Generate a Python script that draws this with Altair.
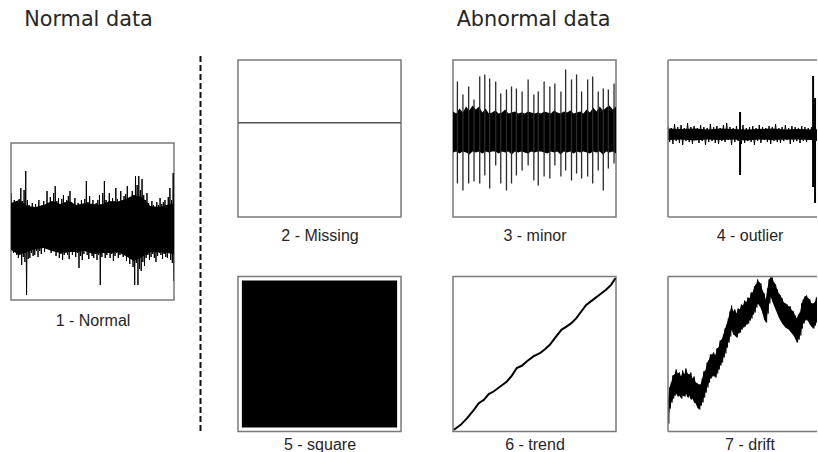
import altair as alt
import pandas as pd

# ---------------- text ----------------
TITLES = ["Normal data", "Abnormal data"]
LABELS = ["1 - Normal", "2 - Missing", "3 - minor", "4 - outlier",
          "5 - square", "6 - trend", "7 - drift"]

# ---------------- 1 - Normal: noise excursions (upper / lower), 100 samples ----------------
P1_HI = [3.6, 2.2, 2.9, 2.1, 2.6, 3.0, 4.1, 2.8, 3.9, 5.8,
         2.9, 2.4, 2.0, 2.6, 2.1, 2.5, 2.2, 2.9, 2.1, 2.4,
         2.8, 2.3, 3.8, 2.6, 3.2, 2.5, 3.6, 4.3, 2.8, 3.1,
         2.4, 3.0, 3.4, 2.6, 2.9, 3.3, 3.8, 2.7, 2.4, 3.1,
         2.3, 2.6, 2.0, 2.9, 2.4, 3.0, 4.8, 2.7, 3.3, 2.2,
         2.9, 2.1, 2.6, 2.9, 3.4, 2.5, 3.6, 4.8, 2.9, 2.7,
         3.6, 2.6, 3.1, 2.8, 4.1, 3.0, 2.8, 3.8, 2.9, 3.3,
         3.5, 4.3, 2.9, 3.2, 3.8, 3.4, 5.3, 4.4, 5.3, 3.9,
         5.0, 3.4, 2.9, 3.6, 2.6, 2.3, 2.8, 2.4, 2.1, 2.7,
         2.4, 3.1, 2.5, 2.7, 2.9, 2.4, 3.2, 4.1, 2.9, 5.6]
P1_LO = [-2.0, -2.4, -2.1, -2.6, -2.9, -2.3, -3.6, -2.8, -3.3, -6.6,
         -3.0, -2.9, -2.4, -2.7, -2.6, -2.2, -2.8, -2.2, -2.5, -1.9,
         -2.3, -1.6, -2.0, -1.8, -2.4, -2.0, -2.2, -2.7, -2.3, -2.9,
         -2.5, -3.1, -2.6, -2.4, -2.6, -3.0, -2.3, -2.6, -2.2, -2.8,
         -2.4, -3.9, -2.7, -3.1, -2.5, -2.2, -2.6, -3.0, -2.4, -2.7,
         -2.9, -2.5, -3.1, -2.6, -5.6, -2.8, -2.4, -2.9, -2.6, -2.3,
         -2.9, -2.5, -3.2, -2.7, -2.4, -2.9, -2.6, -2.3, -2.8, -2.5,
         -3.2, -2.7, -3.5, -3.0, -3.8, -5.6, -3.4, -5.6, -4.0, -4.2,
         -3.3, -3.7, -2.9, -2.6, -3.1, -2.8, -2.5, -2.9, -3.3, -2.7,
         -2.4, -2.6, -3.0, -2.5, -2.8, -2.9, -2.4, -3.1, -3.4, -5.2]
# solid core of the trace
P1_CORE_T = [0, 5, 10, 15, 20, 25, 30, 35, 40, 45, 50,
             55, 60, 65, 70, 75, 80, 85, 90, 95, 100]
P1_CORE_HI = [2.6, 2.9, 2.3, 2.2, 2.4, 2.8, 2.5, 2.8, 2.4, 2.6, 2.5,
              2.4, 2.8, 2.7, 3.0, 3.4, 3.2, 2.3, 2.2, 2.4, 2.6]
P1_CORE_LO = [-2.1, -2.6, -2.3, -2.0, -1.9, -2.2, -2.4, -2.3, -2.3, -2.2, -2.5,
              -2.4, -2.4, -2.3, -2.7, -3.2, -2.8, -2.3, -2.3, -2.4, -2.5]

# ---------------- 2 - Missing: flat line ----------------
P2_T = [0, 100]
P2_V = [0.6, 0.6]

# ---------------- 3 - minor: band + periodic spikes ----------------
P3_HI = [2.1, 1.9, 2.4, 2.0, 2.6, 2.2, 2.7, 2.3, 2.6, 2.0,
         2.4, 1.9, 2.0, 2.2, 1.9, 2.0, 2.3, 1.9, 2.0, 2.1,
         1.9, 2.0, 1.9, 2.1, 2.0, 1.9, 2.0, 1.9, 2.1, 2.0,
         1.9, 2.2, 2.0, 1.9, 2.1, 2.0, 2.2, 1.9, 2.0, 2.1,
         1.9, 2.3, 2.0, 2.5, 2.1, 2.6, 2.2, 2.5, 2.7, 2.3, 2.6]
P3_LO = [-2.0, -1.9, -2.1, -1.9, -2.0, -2.2, -1.9, -2.0, -1.9, -2.1,
         -1.9, -2.0, -1.9, -1.9, -2.1, -1.9, -2.0, -1.9, -2.2, -1.9,
         -2.0, -1.9, -2.0, -2.1, -1.9, -2.0, -1.9, -1.9, -2.0, -2.1,
         -1.9, -2.0, -1.9, -2.2, -1.9, -2.0, -1.9, -2.1, -1.9, -2.0,
         -1.9, -2.0, -2.1, -1.9, -2.0, -1.9, -2.2, -1.9, -2.0, -1.9, -2.1]
P3_SPIKE_T = [2.7, 6.1, 9.6, 12.9, 16.4, 19.5, 22.5, 26.2, 29.3, 32.8,
              35.9, 38.9, 42.4, 46.1, 49.6, 52.3, 55.9, 59.4, 62.5, 66.2,
              69.1, 72.7, 75.8, 78.9, 82.6, 85.7, 89.1, 92.2, 95.3, 98.8]
P3_SPIKE_TOP = [5.1, 3.8, 4.6, 3.3, 5.6, 5.8, 5.4, 5.1, 3.9, 4.3,
                4.6, 4.4, 4.1, 5.3, 3.8, 4.1, 5.1, 4.6, 4.9, 4.1,
                6.3, 5.3, 5.8, 4.1, 5.3, 5.6, 4.1, 4.4, 4.3, 4.9]
P3_SPIKE_BOT = [-5.1, -5.8, -5.1, -4.9, -5.1, -4.3, -5.6, -3.3, -5.1, -5.8,
                -5.1, -4.3, -3.8, -3.3, -4.8, -5.3, -4.4, -4.6, -3.3, -4.4,
                -3.8, -4.8, -4.1, -4.6, -4.4, -5.1, -3.8, -5.8, -3.6, -3.1]

# ---------------- 4 - outlier: thin band + outliers ----------------
P4_HI = [0.8, 0.6, 1.0, 0.7, 0.9, 0.6, 1.1, 0.7, 0.8, 0.6,
         0.9, 0.7, 0.6, 1.0, 0.7, 0.8, 0.6, 0.9, 1.1, 0.7,
         0.6, 0.8, 0.7, 0.9, 0.6, 0.7, 0.8, 0.6, 0.9, 0.7,
         0.6, 0.8, 0.7, 1.0, 0.6, 0.7, 0.9, 0.6, 0.8, 0.7,
         0.6, 0.8, 0.7, 0.6, 0.7, 0.8, 0.7, 0.6]
P4_LO = [-0.8, -1.0, -0.7, -0.9, -1.1, -0.7, -0.8, -1.0, -0.6, -0.9,
         -0.7, -1.1, -0.8, -0.7, -0.9, -1.0, -0.7, -0.8, -0.6, -1.1,
         -0.8, -0.7, -1.0, -0.9, -0.7, -0.8, -1.1, -0.7, -0.9, -0.6,
         -0.8, -1.0, -0.7, -0.8, -0.9, -0.7, -0.6, -1.0, -0.8, -0.7,
         -0.9, -0.7, -0.8, -0.6, -0.9, -0.7, -0.8, -0.7]
P4_CORE_T = [0, 8, 16, 24, 32, 40, 48, 56, 64, 72, 80, 88, 96]
P4_CORE_HI = [0.55, 0.5, 0.55, 0.45, 0.55, 0.5, 0.45, 0.5, 0.55, 0.45, 0.5, 0.45, 0.5]
P4_CORE_LO = [-0.6, -0.55, -0.65, -0.55, -0.6, -0.55, -0.65, -0.55, -0.6, -0.55, -0.55, -0.6, -0.55]
P4_SPIKE_T = [44.2, 89.0, 90.2]
P4_SPIKE_TOP = [2.2, 5.8, 3.6]
P4_SPIKE_BOT = [-4.1, -5.3, -6.9]

# ---------------- 5 - square: saturated square wave ----------------
P5_T = [0, 100]
P5_HI = [1, 1]
P5_LO = [-1, -1]

# ---------------- 6 - trend ----------------
P6_T = [0.6, 4.7, 8.7, 12.8, 15.8, 18.9, 21.9, 24.9, 29.0, 33.1,
        36.1, 39.1, 42.2, 45.2, 49.3, 53.3, 56.4, 59.4, 62.5, 66.5,
        69.6, 72.6, 75.7, 78.7, 81.7, 85.8, 89.9, 93.9, 97.0, 99.6]
P6_V = [1.1, 4.3, 8.6, 14.0, 18.3, 20.4, 24.1, 25.8, 29.0, 32.3,
        36.1, 40.9, 42.4, 45.2, 48.4, 50.5, 53.1, 55.9, 60.2, 65.6,
        67.7, 69.9, 73.1, 77.4, 81.7, 84.9, 88.2, 91.4, 94.6, 98.9]

# ---------------- 7 - drift: wandering noisy band ----------------
P7_HI = [3.2, 4.4, 4.9, 5.6, 5.7, 6.2, 5.8, 5.9, 5.5, 6.1,
         5.7, 6.3, 5.8, 5.7, 5.9, 5.3, 5.5, 4.9, 4.8, 4.7,
         4.7, 5.3, 6.0, 6.1, 6.9, 7.1, 7.7, 7.7, 7.9, 7.6,
         8.3, 8.4, 9.1, 9.2, 9.7, 10.3, 10.7, 11.3, 12.0, 12.6,
         12.0, 12.2, 11.8, 12.3, 12.2, 12.7, 12.6, 13.1, 12.9, 13.4,
         13.3, 13.9, 13.9, 14.5, 14.7, 15.2, 14.9, 14.8, 14.1, 13.8,
         13.2, 14.3, 15.2, 15.4, 15.4, 14.9, 14.7, 14.2, 13.8, 13.6,
         13.3, 12.9, 12.8, 12.7, 12.5, 12.5, 12.1, 12.0, 11.6, 11.3,
         11.7, 11.9, 12.8, 13.2, 13.5, 13.6, 13.3, 13.2, 12.8, 12.8,
         12.9, 13.4, 13.4, 13.6]
P7_LO = [0.8, 2.3, 2.9, 3.3, 3.6, 3.8, 3.5, 3.6, 3.3, 3.6,
         3.5, 3.8, 3.4, 3.6, 3.2, 3.3, 2.9, 2.8, 2.4, 2.2,
         2.6, 2.9, 3.4, 3.9, 4.4, 4.9, 5.3, 5.5, 5.6, 5.4,
         5.8, 6.2, 6.6, 6.9, 7.4, 7.8, 8.4, 8.9, 9.5, 10.2,
         9.7, 9.6, 9.4, 9.8, 9.9, 10.2, 10.4, 10.5, 10.7, 10.8,
         11.1, 11.3, 11.7, 11.9, 12.4, 12.8, 12.6, 12.3, 11.8, 11.2,
         10.9, 11.8, 12.8, 13.5, 13.0, 12.6, 12.2, 11.8, 11.4, 11.1,
         10.8, 10.6, 10.4, 10.3, 10.2, 10.0, 9.8, 9.6, 9.3, 8.9,
         9.2, 9.6, 10.3, 10.8, 11.1, 11.2, 11.0, 10.7, 10.5, 10.3,
         10.6, 10.9, 11.1, 11.1]

# ---------------- styling ----------------
FRAME = "#7a7a7a"
TEXT = "#262626"
LABEL_FONT = "Liberation Sans"
TITLE_FONT = "DejaVu Sans"
NOFRAME = alt.ViewBackground(strokeOpacity=0, strokeWidth=0)
ONE = pd.DataFrame({"k": [0]})


def zigzag(t, hi, lo, step):
    """Noise trace: each sample swings from its upper to its lower excursion."""
    rows = []
    for ti, h, l in zip(t, hi, lo):
        rows.append({"t": ti, "v": h})
        rows.append({"t": ti + step / 2, "v": l})
    return pd.DataFrame(rows)


def xaxis(label, ty, tx=None):
    kw = dict(title=label, labels=False, ticks=False, domain=False, grid=False,
              titleFont=LABEL_FONT, titleFontSize=16, titleFontWeight="normal",
              titleColor=TEXT, titleY=ty, titleBaseline="alphabetic")
    if tx is not None:
        kw["titleX"] = tx
    return alt.Axis(**kw)


def X(field, dom, label, ty, tx=None):
    return alt.X(f"{field}:Q", scale=alt.Scale(domain=dom, nice=False, zero=False),
                 axis=xaxis(label, ty, tx))


def Y(field, dom):
    return alt.Y(f"{field}:Q", scale=alt.Scale(domain=dom, nice=False, zero=False), axis=None)


def spacer(w, h):
    return alt.Chart(ONE).mark_point(size=1, filled=True, opacity=0).encode(
        x=alt.value(w / 2), y=alt.value(h / 2)).properties(width=w, height=h, view=NOFRAME)


def open_frame(w, h):
    left = alt.Chart(ONE).mark_rule(color=FRAME, strokeWidth=1.5).encode(
        x=alt.value(0), y=alt.value(0), y2=alt.value(h))
    top = alt.Chart(ONE).mark_rule(color=FRAME, strokeWidth=1.5).encode(
        x=alt.value(0), x2=alt.value(w), y=alt.value(0))
    bottom = alt.Chart(ONE).mark_rule(color=FRAME, strokeWidth=1.5).encode(
        x=alt.value(0), x2=alt.value(w), y=alt.value(h))
    return [left, top, bottom]


W, WCUT, H1, H2 = 163, 149, 157, 155
TOP_T, BOT_T = 23, 17.5
CUT_DOM = [0, 91.4]

# 1 - Normal
d1x, d1y = [0, 99.5], [-7.1, 8.6]
df1c = pd.DataFrame({"t": P1_CORE_T, "hi": P1_CORE_HI, "lo": P1_CORE_LO})
df1 = zigzag(list(range(len(P1_HI))), P1_HI, P1_LO, 1)
p1 = alt.layer(
    alt.Chart(df1c).mark_area(color="black", clip=True).encode(
        x=X("t", d1x, LABELS[0], 25), y=Y("hi", d1y), y2="lo:Q"),
    alt.Chart(df1).mark_line(color="black", strokeWidth=1, clip=True).encode(
        x=X("t", d1x, LABELS[0], 25), y=Y("v", d1y)),
).properties(width=W, height=H1)

# 2 - Missing
df2 = pd.DataFrame({"t": P2_T, "v": P2_V})
p2 = alt.Chart(df2).mark_line(color="#555555", strokeWidth=1.5).encode(
    x=X("t", [0, 100], LABELS[1], TOP_T), y=Y("v", [0, 1])
).properties(width=W, height=H1)

# 3 - minor
df3 = pd.DataFrame({"t": list(range(0, 101, 2)), "hi": P3_HI, "lo": P3_LO})
df3s = pd.DataFrame({"t": P3_SPIKE_T, "hi": P3_SPIKE_TOP, "lo": P3_SPIKE_BOT})
d3y = [-8.45, 7.25]
p3 = alt.layer(
    alt.Chart(df3).mark_area(color="black").encode(
        x=X("t", [0, 100], LABELS[2], TOP_T), y=Y("hi", d3y), y2="lo:Q"),
    alt.Chart(df3s).mark_rule(color="#2a2a2a", strokeWidth=1.3).encode(
        x=X("t", [0, 100], LABELS[2], TOP_T), y=Y("hi", d3y), y2="lo:Q"),
).properties(width=W, height=H1)

# 4 - outlier (cut at right edge)
t4 = list(range(0, 96, 2))
df4c = pd.DataFrame({"t": P4_CORE_T, "hi": P4_CORE_HI, "lo": P4_CORE_LO})
df4z = zigzag(t4, P4_HI, P4_LO, 2)
df4s = pd.DataFrame({"t": P4_SPIKE_T, "hi": P4_SPIKE_TOP, "lo": P4_SPIKE_BOT})
d4y = [-8.3, 7.4]
p4 = alt.layer(
    alt.Chart(df4c).mark_area(color="black", clip=True).encode(
        x=X("t", CUT_DOM, LABELS[3], TOP_T, 81.5), y=Y("hi", d4y), y2="lo:Q"),
    alt.Chart(df4z).mark_line(color="black", strokeWidth=1, clip=True).encode(
        x=X("t", CUT_DOM, LABELS[3], TOP_T, 81.5), y=Y("v", d4y)),
    alt.Chart(df4s).mark_rule(color="black", strokeWidth=2, clip=True).encode(
        x=X("t", CUT_DOM, LABELS[3], TOP_T, 81.5), y=Y("hi", d4y), y2="lo:Q"),
    *open_frame(WCUT, H1),
).properties(width=WCUT, height=H1, view=NOFRAME)

# 5 - square
df5 = pd.DataFrame({"t": P5_T, "hi": P5_HI, "lo": P5_LO})
p5 = alt.Chart(df5).mark_area(color="black").encode(
    x=X("t", [-2.5, 102.5], LABELS[4], BOT_T), y=Y("hi", [-1.055, 1.055]), y2="lo:Q"
).properties(width=W, height=H2)

# 6 - trend
df6 = pd.DataFrame({"t": P6_T, "v": P6_V})
p6 = alt.Chart(df6).mark_line(color="black", strokeWidth=2).encode(
    x=X("t", [0, 100], LABELS[5], BOT_T), y=Y("v", [0, 100])
).properties(width=W, height=H2)

# 7 - drift (cut at right edge)
t7 = list(range(len(P7_HI)))
df7 = pd.DataFrame({"t": t7, "hi": P7_HI, "lo": P7_LO})
df7z = zigzag(t7, P7_HI, P7_LO, 1)
p7 = alt.layer(
    alt.Chart(df7).mark_area(color="black", clip=True).encode(
        x=X("t", CUT_DOM, LABELS[6], BOT_T, 81.5), y=Y("hi", [0, 15.5]), y2="lo:Q"),
    alt.Chart(df7z).mark_line(color="black", strokeWidth=0.8, clip=True).encode(
        x=X("t", CUT_DOM, LABELS[6], BOT_T, 81.5), y=Y("v", [0, 15.5])),
    *open_frame(WCUT, H2),
).properties(width=WCUT, height=H2, view=NOFRAME)


# header titles
def header_text(i, xpos):
    return alt.Chart(pd.DataFrame({"s": [TITLES[i]]})).mark_text(
        font=TITLE_FONT, fontSize=20.8, color=TEXT, align="center", baseline="alphabetic"
    ).encode(text="s:N", x=alt.value(xpos), y=alt.value(26))


header = alt.layer(header_text(0, 77.5), header_text(1, 522.5)).properties(
    width=806, height=55, view=NOFRAME)

# dashed separator
DASH_W = 59
dash = alt.Chart(ONE).mark_rule(color="#111111", strokeWidth=2, strokeDash=[6, 3]).encode(
    x=alt.value(25.5), y=alt.value(0), y2=alt.value(377)
).properties(width=DASH_W, height=377, view=NOFRAME)

# layout: inner concats (units only) are flush, outer ones use full bounds
colA = alt.vconcat(spacer(W, 87), p1, spacing=0, bounds="flush")
row1 = alt.hconcat(p2, p3, p4, spacing=52, bounds="flush")
row2 = alt.hconcat(p5, p6, p7, spacing=52, bounds="flush")
rows = alt.vconcat(row1, row2, spacing=28.5, bounds="full")
blockB = alt.vconcat(spacer(W + 52 + W + 52 + WCUT, 3), rows, spacing=0, bounds="full")
body = alt.hconcat(colA, dash, blockB, spacing=0, bounds="full")

chart = alt.vconcat(header, body, spacing=0, bounds="full").properties(
    padding={"left": 10, "top": 0, "right": 0, "bottom": 0}, background="white"
).configure_view(stroke=FRAME, strokeWidth=1.5)

chart.save("out.html", embed_options={"renderer": "svg", "actions": False})
